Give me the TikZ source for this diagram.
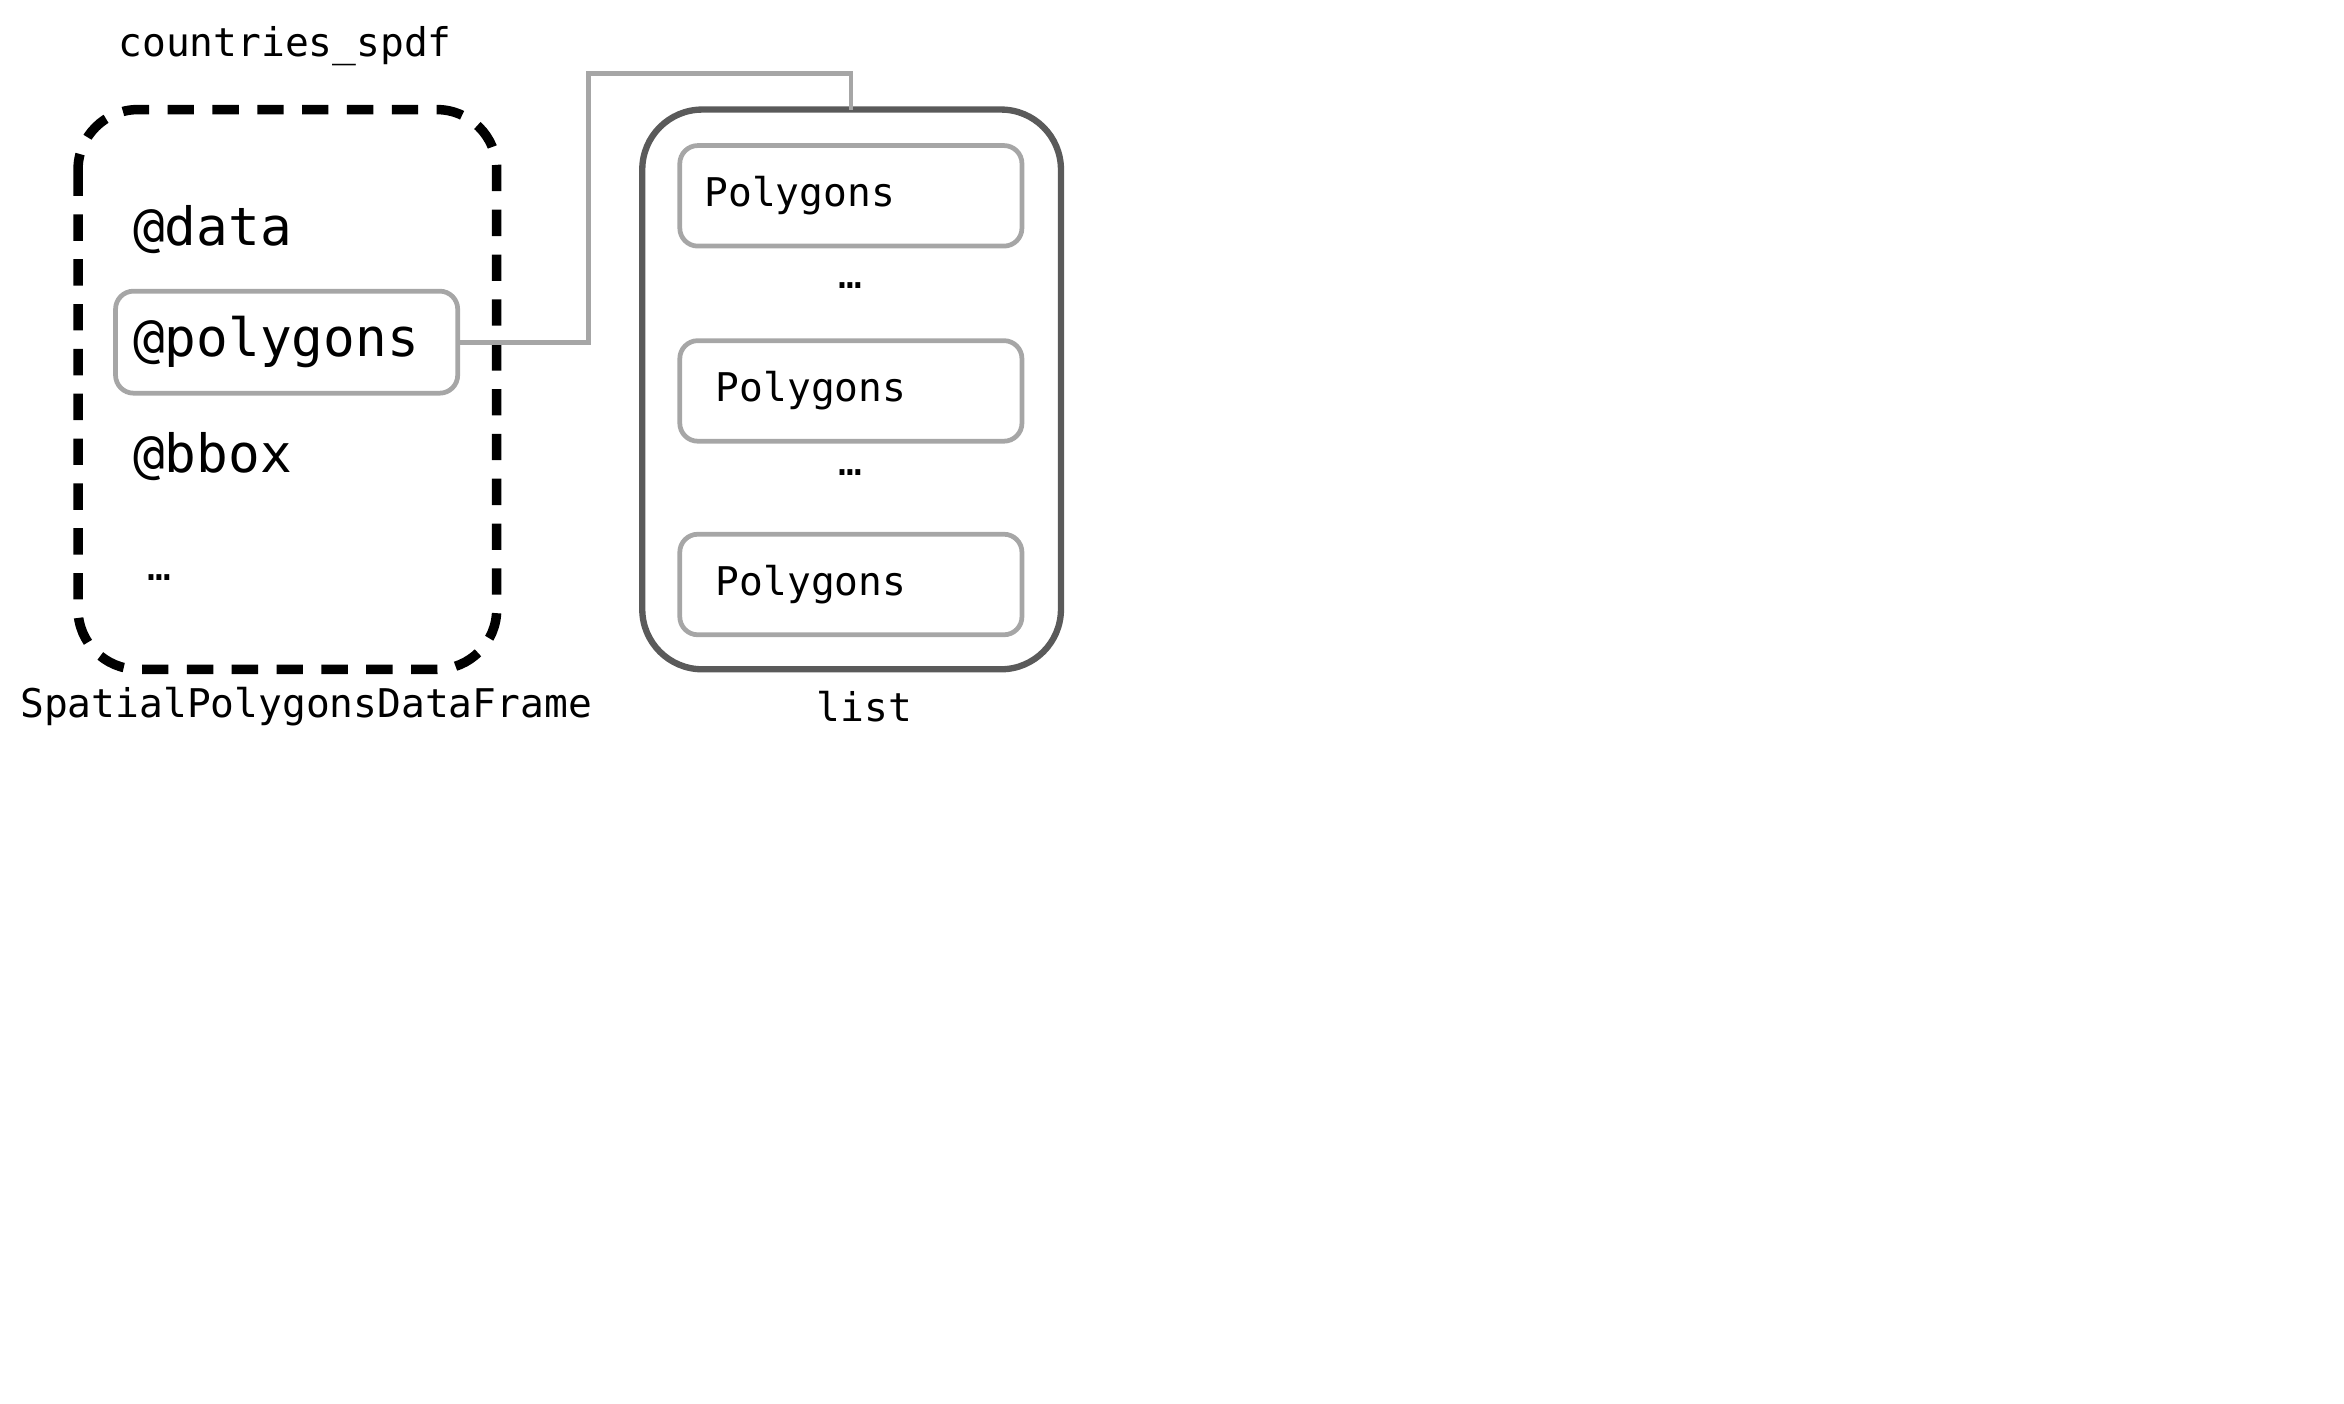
\documentclass[tikz,border=0pt]{standalone}
\usepackage{fontspec}
\setmonofont{DejaVu Sans Mono}
\usetikzlibrary{positioning}
\definecolor{boxgray}{RGB}{166,166,166}
\definecolor{listgray}{RGB}{90,90,90}
\tikzset{slot/.style={draw=boxgray,line width=0.9pt,rounded corners=0.12cm,minimum width=2.28cm,minimum height=0.67cm,font=\ttfamily\fontsize{7.5}{9}\selectfont}}
\tikzset{caption/.style={font=\ttfamily\fontsize{7.5}{9}\selectfont,inner sep=0pt}}
\tikzset{field/.style={font=\ttfamily\fontsize{10}{12}\selectfont,inner sep=0pt,anchor=west}}
\begin{document}
\begin{tikzpicture}
	\useasboundingbox (0,0) rectangle (15.62,-9.35);
	% outer containers
	\draw [line width=1.8pt,dash pattern=on 5pt off 3.5pt,rounded corners=0.4cm] (0.52,-0.73) rectangle (3.31,-4.46);
	\draw [line width=1.2pt,color=listgray,rounded corners=0.4cm] (4.28,-0.73) rectangle (7.07,-4.46);
	\node [caption] (name) at (1.90,-0.31) {countries\_spdf};
	\node [caption] (spdf) at (2.04,-4.71) {SpatialPolygonsDataFrame};
	\node [caption] (lst) at (5.76,-4.71) {list};
	% slots of the object
	\node [field] (data) at (0.88,-1.53) {@data};
	\node [slot,minimum height=0.68cm] (polybox) at (1.91,-2.28) {};
	\node [field] (polys) at (0.88,-2.28) {@polygons};
	\node [field] (bbox) at (0.88,-3.04) {@bbox};
	\node [caption] (more) at (1.06,-3.85) {…};
	% list elements
	\node [slot,text width=1.95cm] (p1) at (5.67,-1.305) {Polygons};
	\node [caption] (d1) at (5.67,-1.90) {…};
	\node [slot,text width=1.8cm] (p2) at (5.67,-2.605) {Polygons};
	\node [caption] (d2) at (5.67,-3.15) {…};
	\node [slot,text width=1.8cm] (p3) at (5.67,-3.895) {Polygons};
	\coordinate (top) at (5.67,-0.73);
	\draw [boxgray,line width=0.9pt] (polybox.east) -| (3.92,-0.49) -| (top);
\end{tikzpicture}
\end{document}
